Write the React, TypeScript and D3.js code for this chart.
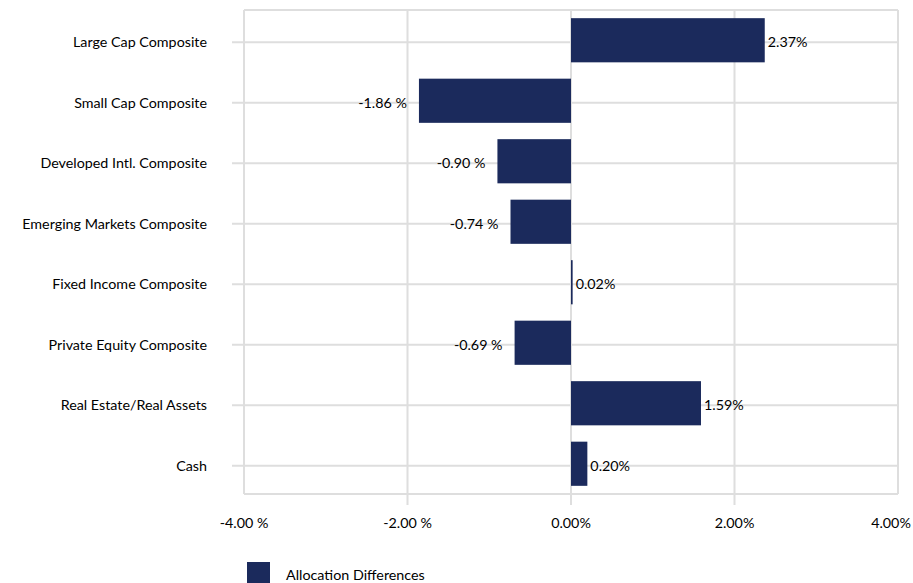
import React from "react";
import * as d3 from "d3";

const categories = [
  "Large Cap Composite",
  "Small Cap Composite",
  "Developed Intl. Composite",
  "Emerging Markets Composite",
  "Fixed Income Composite",
  "Private Equity Composite",
  "Real Estate/Real Assets",
  "Cash",
];
const values = [2.37, -1.86, -0.9, -0.74, 0.02, -0.69, 1.59, 0.2];
const xTicks = [-4, -2, 0, 2, 4];
const seriesName = "Allocation Differences";

const W = 913;
const H = 583;
const BAR = "#1b2a5c";
const GRID = "#dedede";
const FONT = "Lato, 'Open Sans', sans-serif";
const FS = 14.3;

const fmt = (v: number) => (v < 0 ? `${v.toFixed(2)} %` : `${v.toFixed(2)}%`);

export default function App() {
  const x = d3.scaleLinear().domain([-4, 4]).range([244, 898]);
  const y = d3
    .scaleBand<string>()
    .domain(categories)
    .range([10, 494])
    .paddingInner(0.27)
    .paddingOuter(0.135);
  const top = 10;
  const bottom = 494;
  const center = (c: string) => (y(c) as number) + y.bandwidth() / 2;
  const [xmin, xmax] = x.domain();

  return (
    <svg
      width={W}
      height={H}
      style={{ position: "absolute", left: 0, top: 0, background: "#fff" }}
      fontFamily={FONT}
    >
      {/* frame top */}
      <line x1={x(xmin)} x2={x(xmax)} y1={top} y2={top} stroke={GRID} strokeWidth={2} />
      {/* vertical grid */}
      {xTicks.map((t) => (
        <line
          key={"v" + t}
          x1={x(t)}
          x2={x(t)}
          y1={top}
          y2={t === xmin || t === xmax ? bottom : bottom + 11}
          stroke={GRID}
          strokeWidth={2}
        />
      ))}
      {/* bottom */}
      <line x1={x(xmin)} x2={x(xmax)} y1={bottom} y2={bottom} stroke={GRID} strokeWidth={2} />
      {/* horizontal grid */}
      {categories.map((c) => (
        <line key={"h" + c} x1={x(xmin) - 12} x2={x(xmax)} y1={center(c) + 2} y2={center(c) + 2} stroke={GRID} strokeWidth={2} />
      ))}
      {/* bars */}
      {categories.map((c, i) => {
        const v = values[i];
        const x0 = x(Math.min(0, v));
        const x1 = x(Math.max(0, v));
        return (
          <rect key={"b" + c} x={x0} y={y(c)} width={Math.max(1.5, x1 - x0)} height={y.bandwidth()} fill={BAR} />
        );
      })}
      {/* value labels */}
      {categories.map((c, i) => {
        const v = values[i];
        const pos = v >= 0;
        return (
          <text
            key={"l" + c}
            x={pos ? x(Math.max(v, 0.02)) + 3 : x(v) - 12}
            y={center(c) + 2}
            dy="0.35em"
            textAnchor={pos ? "start" : "end"}
            fontSize={FS}
            fill="#000"
          >
            {fmt(v)}
          </text>
        );
      })}
      {/* category labels */}
      {categories.map((c) => (
        <text key={"c" + c} x={207} y={center(c) + 2} dy="0.35em" textAnchor="end" fontSize={FS} fill="#000">
          {c}
        </text>
      ))}
      {/* x tick labels */}
      {xTicks.map((t) => (
        <text key={"t" + t} x={Math.min(x(t), W - 22)} y={523} dy="0.35em" textAnchor="middle" fontSize={FS} fill="#000">
          {fmt(t)}
        </text>
      ))}
      {/* legend */}
      <rect x={247} y={562} width={23} height={21} fill={BAR} />
      <text x={286} y={575} dy="0.35em" fontSize={FS} fill="#000">
        {seriesName}
      </text>
    </svg>
  );
}
